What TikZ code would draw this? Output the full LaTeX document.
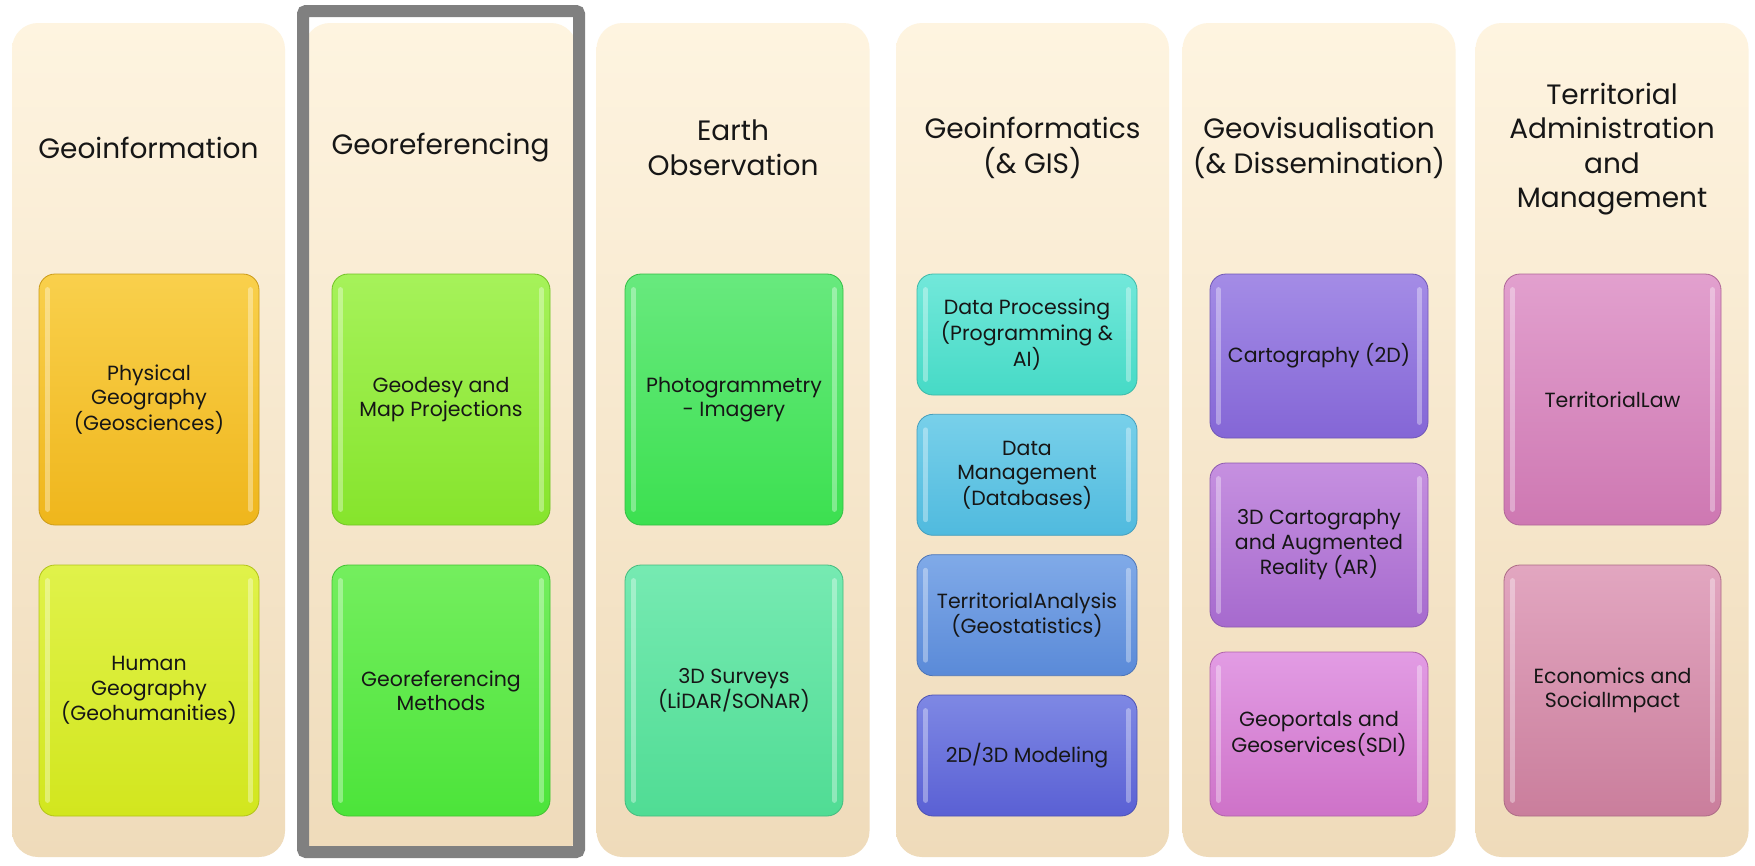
\documentclass[tikz,border=0pt]{standalone}
\usepackage{fontspec}
\setmainfont{Poppins}
\definecolor{cTop}{HTML}{FEF4E0}
\definecolor{cMid}{HTML}{FCEFD8}
\definecolor{cBot}{HTML}{EFDBBA}
\definecolor{frameg}{HTML}{808080}
\definecolor{aT}{HTML}{F9D04C}\definecolor{aB}{HTML}{EFB61C}
\definecolor{bT}{HTML}{E0F24A}\definecolor{bB}{HTML}{D2E61E}
\definecolor{cT}{HTML}{A6F25A}\definecolor{cB}{HTML}{86E42C}
\definecolor{dT}{HTML}{74EE5E}\definecolor{dB}{HTML}{4CE43A}
\definecolor{eT}{HTML}{68E97E}\definecolor{eB}{HTML}{3CE050}
\definecolor{fT}{HTML}{76EAB2}\definecolor{fB}{HTML}{50DC94}
\definecolor{gT}{HTML}{72E8DA}\definecolor{gB}{HTML}{46DAC6}
\definecolor{hT}{HTML}{78D0EA}\definecolor{hB}{HTML}{50BADE}
\definecolor{iT}{HTML}{80AAE8}\definecolor{iB}{HTML}{5A8AD8}
\definecolor{jT}{HTML}{7E88E4}\definecolor{jB}{HTML}{5A60D4}
\definecolor{kT}{HTML}{A48CE6}\definecolor{kB}{HTML}{8466D6}
\definecolor{lT}{HTML}{C690E0}\definecolor{lB}{HTML}{A66ACE}
\definecolor{mT}{HTML}{E29CE4}\definecolor{mB}{HTML}{CE72C8}
\definecolor{nT}{HTML}{E2A0CE}\definecolor{nB}{HTML}{CE78B2}
\definecolor{oT}{HTML}{E2A6C0}\definecolor{oB}{HTML}{CA7E9C}
\definecolor{ink}{HTML}{161616}
\newcommand\gbox[8]{%
  \node[gb, top color=#6, bottom color=#7, draw=#7!85!black,
        minimum width=#4pt, minimum height=#5pt] (#1) at (#2,#3) {#8};
  \draw[hl] ([xshift=9pt,yshift=-16pt]#1.north west) -- ([xshift=9pt,yshift=16pt]#1.south west);
  \draw[hl] ([xshift=-9pt,yshift=-16pt]#1.north east) -- ([xshift=-9pt,yshift=16pt]#1.south east);
}
\begin{document}
\begin{tikzpicture}[x=1pt,y=-1pt,
  colbg/.style={rounded corners=26pt, top color=cTop, middle color=cMid, bottom color=cBot,
    draw=none, minimum width=273pt, minimum height=834pt, inner sep=0pt},
  ttl/.style={align=center, text=ink, font=\fontsize{28}{34.5}\selectfont},
  gb/.style={rounded corners=16pt, inner sep=2pt, align=center, text=ink,
    line width=0.8pt, font=\fontsize{20.5}{24.3}\selectfont},
  hl/.style={white, opacity=0.35, line width=5pt, line cap=round},
]
\useasboundingbox (0,0) rectangle (1755,865);
\fill[white] (0,0) rectangle (1755,865);
% columns
\node[colbg] (c1) at (148.5,440) {};
\node[colbg] (c2) at (440.5,440) {};
\node[colbg] (c3) at (733,440) {};
\node[colbg] (c4) at (1032.5,440) {};
\node[colbg] (c5) at (1319,440) {};
\node[colbg] (c6) at (1612,440) {};
% highlight frame
\draw[frameg, line width=12pt, rounded corners=3pt] (303,11) rectangle (579,852);
% titles
\node[ttl] (t1) at (148.5,148) {Geoinformation};
\node[ttl] (t2) at (440.5,148) {Georeferencing};
\node[ttl] (t3) at (733,148) {Earth\\Observation};
\node[ttl] (t4) at (1032.5,148) {Geoinformatics\\(\& GIS)};
\node[ttl] (t5) at (1319,148) {Geovisualisation\\(\& Dissemination)};
\node[ttl] (t6) at (1612,149) {Territorial\\Administration\\and\\Management};
% column 1
\gbox{b11}{149}{399.5}{220}{251}{aT}{aB}{Physical\\Geography\\(Geosciences)}
\gbox{b12}{149}{690.5}{220}{251}{bT}{bB}{Human\\Geography\\(Geohumanities)}
% column 2
\gbox{b21}{441}{399.5}{218}{251}{cT}{cB}{Geodesy and\\Map Projections}
\gbox{b22}{441}{690.5}{218}{251}{dT}{dB}{Georeferencing\\Methods}
% column 3
\gbox{b31}{734}{399.5}{218}{251}{eT}{eB}{Photogrammetry\\- Imagery}
\gbox{b32}{734}{690.5}{218}{251}{fT}{fB}{3D Surveys\\(LiDAR/SONAR)}
% column 4
\gbox{b41}{1027}{334.5}{220}{121}{gT}{gB}{Data Processing\\(Programming \&\\AI)}
\gbox{b42}{1027}{474.8}{220}{121}{hT}{hB}{Data\\Management\\(Databases)}
\gbox{b43}{1027}{615.2}{220}{121}{iT}{iB}{TerritorialAnalysis\\(Geostatistics)}
\gbox{b44}{1027}{755.5}{220}{121}{jT}{jB}{2D/3D Modeling}
% column 5
\gbox{b51}{1319}{356}{218}{164}{kT}{kB}{Cartography (2D)}
\gbox{b52}{1319}{545}{218}{164}{lT}{lB}{3D Cartography\\and Augmented\\Reality (AR)}
\gbox{b53}{1319}{734}{218}{164}{mT}{mB}{Geoportals and\\Geoservices(SDI)}
% column 6
\gbox{b61}{1612.5}{399.5}{217}{251}{nT}{nB}{TerritorialLaw}
\gbox{b62}{1612.5}{690.5}{217}{251}{oT}{oB}{Economics and\\SocialImpact}
\end{tikzpicture}
\end{document}
